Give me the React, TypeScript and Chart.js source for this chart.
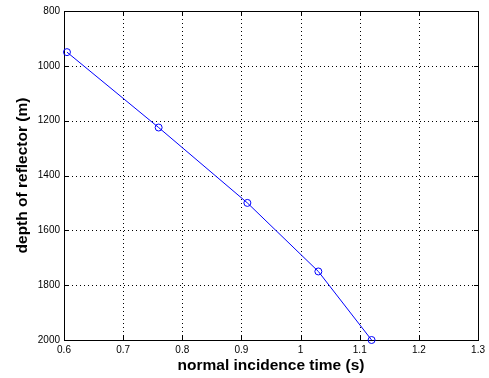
import React, { useEffect, useRef } from "react";
import { Chart, registerables } from "chart.js";

Chart.register(...registerables);

const timeValues = [0.605, 0.76, 0.91, 1.03, 1.12];
const depthValues = [950, 1225, 1500, 1750, 2000];
const xTicks = [0.6, 0.7, 0.8, 0.9, 1.0, 1.1, 1.2, 1.3];
const yTicks = [800, 1000, 1200, 1400, 1600, 1800, 2000];
const xTitle = "normal incidence time (s)";
const yTitle = "depth of reflector (m)";

const boxPlugin = {
  id: "matlabBox",
  beforeDatasetsDraw(chart: any) {
    const { ctx, chartArea } = chart;
    const { left, right, top, bottom } = chartArea;
    const xs = chart.scales.x;
    const ys = chart.scales.y;
    ctx.save();
    ctx.fillStyle = "#000";
    const l = Math.round(left), r = Math.round(right), t = Math.round(top), b = Math.round(bottom);
    xTicks.forEach((v) => {
      const px = Math.round(xs.getPixelForValue(v));
      if (px <= l || px >= r) return;
      for (let y = t; y <= b; y += 4) ctx.fillRect(px, y, 1, 1);
    });
    yTicks.forEach((v) => {
      const py = Math.round(ys.getPixelForValue(v));
      if (py <= t || py >= b) return;
      for (let x = l; x <= r; x += 4) ctx.fillRect(x, py, 1, 1);
    });
    ctx.fillRect(l, t, r - l + 1, 1);
    ctx.fillRect(l, b, r - l + 1, 1);
    ctx.fillRect(l, t, 1, b - t + 1);
    ctx.fillRect(r, t, 1, b - t + 1);
    const tl = 4;
    xTicks.forEach((v) => {
      const px = Math.round(xs.getPixelForValue(v));
      ctx.fillRect(px, b - tl, 1, tl);
      ctx.fillRect(px, t, 1, tl);
    });
    yTicks.forEach((v) => {
      const py = Math.round(ys.getPixelForValue(v));
      ctx.fillRect(l, py, tl, 1);
      ctx.fillRect(r - tl, py, tl, 1);
    });
    ctx.restore();
  },
};

export default function App() {
  const ref = useRef<HTMLCanvasElement>(null);
  useEffect(() => {
    if (!ref.current) return;
    const tickFont = { family: "'Liberation Sans', Arial, sans-serif", size: 10 };
    const titleFont = { family: "'Liberation Sans', Arial, sans-serif", size: 15.5, weight: "bold" as const };
    const chart = new Chart(ref.current, {
      type: "line",
      data: {
        datasets: [
          {
            data: timeValues.map((t, i) => ({ x: t, y: depthValues[i] })),
            borderColor: "#0000ff",
            borderWidth: 1,
            pointStyle: "circle",
            pointRadius: 3.5,
            pointBorderColor: "#0000ff",
            pointBackgroundColor: "rgba(0,0,0,0)",
            pointBorderWidth: 1,
            fill: false,
            tension: 0,
            clip: false as any,
          },
        ],
      },
      options: {
        animation: false,
        responsive: false,
        maintainAspectRatio: false,
        layout: { padding: { top: 11, right: 8, left: 0, bottom: 0 } },
        plugins: { legend: { display: false }, tooltip: { enabled: false } },
        scales: {
          x: {
            type: "linear",
            min: 0.6,
            max: 1.3,
            afterBuildTicks: (s: any) => {
              s.ticks = xTicks.map((v) => ({ value: v }));
            },
            afterFit: (s: any) => {
              s.height = 38;
            },
            grid: { display: false, drawTicks: false },
            border: { display: false },
            ticks: {
              color: "#000",
              font: tickFont,
              padding: 4,
              maxRotation: 0,
              autoSkip: false,
              callback: (v: any) => String(Number(Number(v).toFixed(1))),
            },
            title: { display: true, text: xTitle, color: "#000", font: titleFont, padding: { top: 0, bottom: 3 } },
          },
          y: {
            type: "linear",
            reverse: true,
            min: 800,
            max: 2000,
            afterBuildTicks: (s: any) => {
              s.ticks = yTicks.map((v) => ({ value: v }));
            },
            afterFit: (s: any) => {
              s.width = 64;
            },
            grid: { display: false, drawTicks: false },
            border: { display: false },
            ticks: {
              color: "#000",
              font: tickFont,
              padding: 4,
              autoSkip: false,
              callback: (v: any) => String(v),
            },
            title: { display: true, text: yTitle, color: "#000", font: titleFont, padding: { top: 13, bottom: 0 } },
          },
        },
      },
      plugins: [boxPlugin],
    });
    return () => chart.destroy();
  }, []);
  return (
    <div style={{ position: "fixed", left: 0, top: 0, width: 489, height: 378, background: "#fff" }}>
      <canvas ref={ref} width={489} height={378} style={{ width: 489, height: 378, display: "block" }} />
    </div>
  );
}
